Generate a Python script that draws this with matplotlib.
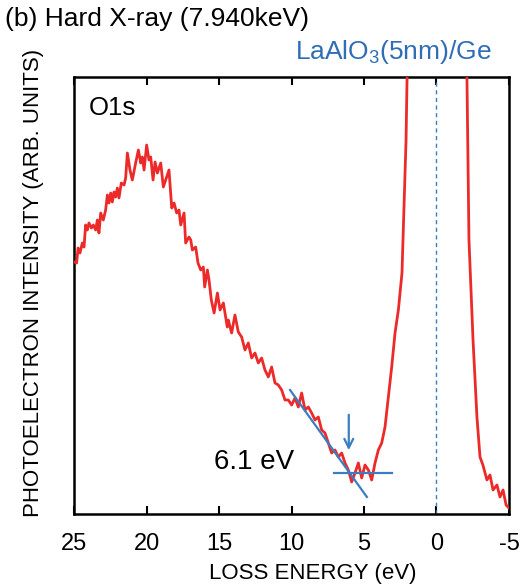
import matplotlib
matplotlib.use("Agg")
import matplotlib.pyplot as plt

plt.rcParams['font.family'] = ['Liberation Sans', 'DejaVu Sans']
plt.rcParams['mathtext.fontset'] = 'custom'
plt.rcParams['mathtext.rm'] = 'Liberation Sans'
plt.rcParams['mathtext.it'] = 'Liberation Sans:italic'
plt.rcParams['mathtext.bf'] = 'Liberation Sans:bold'

# Loss energy (eV) and photoelectron intensity (arb. units)
energy = [24.98, 24.82, 24.72, 24.59, 24.43, 24.31, 24.2, 24.08, 23.97, 23.8, 23.67,
          23.51, 23.39, 23.28, 23.16, 22.98, 22.82, 22.7, 22.59, 22.47, 22.36, 22.24,
          22.13, 22.01, 21.9, 21.74, 21.55, 21.44, 21.32, 21.14, 20.98, 20.75, 20.56,
          20.4, 20.29, 20.17, 19.99, 19.83, 19.71, 19.55, 19.41, 19.25, 19.02, 18.84,
          18.68, 18.45, 18.26, 18.1, 17.92, 17.76, 17.64, 17.41, 17.3, 17.07, 16.95,
          16.84, 16.61, 16.45, 16.26, 16.08, 15.99, 15.8, 15.69, 15.53, 15.34, 15.11,
          14.93, 14.7, 14.43, 14.36, 14.13, 13.9, 13.67, 13.44, 13.21, 12.98, 12.75,
          12.52, 12.29, 12.06, 11.83, 11.6, 11.37, 11.14, 10.91, 10.68, 10.45, 10.22,
          9.99, 9.76, 9.53, 9.3, 9.07, 8.84, 8.61, 8.38, 8.15, 7.92, 7.69, 7.46, 7.23,
          7.0, 6.77, 6.54, 6.31, 6.08, 5.85, 5.62, 5.39, 5.16, 4.93, 4.7, 4.47, 4.24,
          4.01, 3.78, 3.55, 3.32, 3.09, 2.86, 2.63, 2.38, 2.24, 2.1, 2.03, 1.5, 0.0,
          -1.5, -2.1, -2.24, -2.52, -2.79, -3.0, -3.2, -3.48, -3.69, -3.9, -4.17,
          -4.38, -4.59, -4.8, -5.0]
intensity = [252, 251, 266, 261, 271, 267, 289, 284, 291, 286, 289,
             284, 294, 281, 301, 294, 304, 319, 311, 321, 312, 322,
             317, 326, 316, 331, 329, 336, 361, 344, 334, 351, 364,
             351, 357, 344, 369, 354, 357, 334, 352, 341, 351, 327,
             334, 344, 306, 311, 301, 304, 289, 301, 271, 277, 274,
             264, 267, 251, 244, 247, 227, 244, 234, 214, 201, 221,
             204, 211, 187, 194, 181, 199, 182, 177, 164, 171, 156,
             161, 151, 156, 144, 137, 147, 131, 129, 124, 114, 114,
             109, 116, 107, 121, 104, 107, 101, 94, 97, 84, 81, 71, 61,
             64, 57, 61, 51, 44, 32, 41, 51, 36, 49, 44, 34, 51,
             64, 71, 87, 117, 147, 181, 204, 241, 307, 374, 437, 900, 1500,
             900, 437, 274, 174, 97, 57, 49, 34, 39, 24, 29,
             17, 24, 9, 6]

# Threshold construction (tangent lines) and arrow
slope_E = [10.1, 4.8]
slope_I = [124, 17]
base_E = [7.1, 3.07]
base_I = [41, 41]
onset_E = 6.05
arrow_I = [102, 61]

xticks = [25, 20, 15, 10, 5, 0, -5]

red = '#ec2a2a'
blue = '#3b7dbf'

fig = plt.figure(figsize=(5.25, 5.87), dpi=100)
ax = fig.add_axes([0.141, 0.1244, 0.8285, 0.7444])

ax.plot(energy, intensity, color=red, lw=2.0, zorder=3)
ax.plot(slope_E, slope_I, color=blue, lw=1.6, zorder=4)
ax.plot(base_E, base_I, color=blue, lw=1.6, zorder=4)
ax.annotate('', xy=(onset_E, arrow_I[1]), xytext=(onset_E, arrow_I[0]),
            arrowprops=dict(arrowstyle='->', color=blue, lw=1.6,
                            mutation_scale=16), zorder=5)
ax.axvline(0, color=blue, lw=1.0, ls=(0, (3, 2.5)), zorder=2)

ax.set_xlim(25, -5)
ax.set_ylim(0, 437)
ax.set_xticks(xticks)
ax.set_xticklabels([str(t) for t in xticks])
ax.set_yticks([])
ax.tick_params(axis='x', direction='in', top=True, length=6, width=1.5,
               labelsize=17, pad=14)
for s in ax.spines.values():
    s.set_linewidth(1.8)

ax.set_xlabel('LOSS ENERGY (eV)', fontsize=16)
ax.xaxis.set_label_coords(0.549, -0.112)
ax.set_ylabel('PHOTOELECTRON INTENSITY (ARB. UNITS)', fontsize=16)
ax.yaxis.set_label_coords(-0.068, 0.529)

ax.text(24.0, 406, 'O1s', fontsize=18.5, va='center', ha='left')
ax.text(12.59, 52, '6.1 eV', fontsize=20, va='center', ha='center')

fig.text(0.01, 0.968, '(b) Hard X-ray (7.940keV)', fontsize=19, va='center', ha='left')
fig.text(0.937, 0.911, r'LaAlO$_3$(5nm)/Ge', fontsize=19, va='center', ha='right',
         color='#2f6db5')

fig.savefig('out.png', dpi=100)
